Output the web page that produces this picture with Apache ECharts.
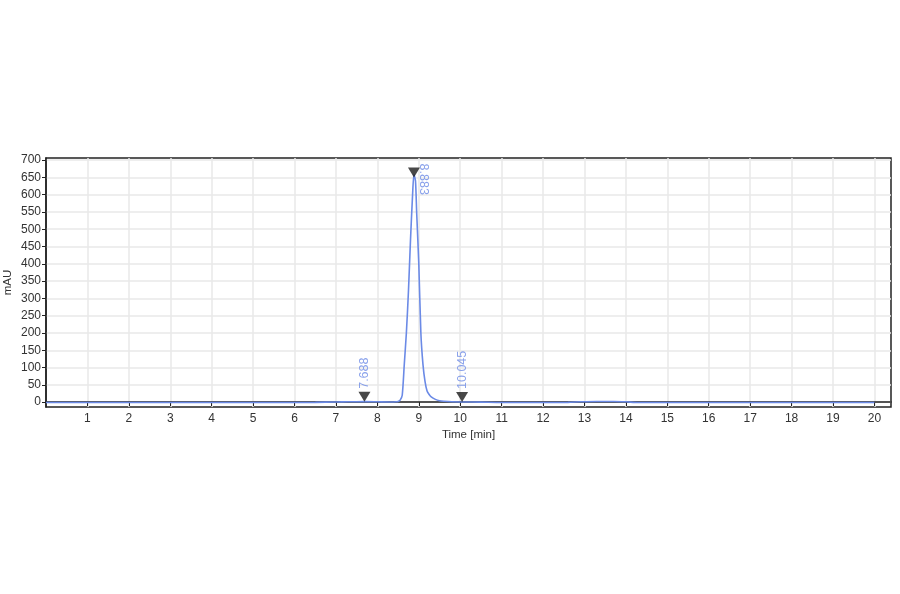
<!DOCTYPE html>
<html>
<head>
<meta charset="utf-8">
<script src="https://cdn.jsdelivr.net/npm/echarts@6/dist/echarts.min.js"></script>
<style>html,body{margin:0;padding:0;background:#fff}#c{width:900px;height:594px}</style>
</head>
<body>
<div id="c"></div>
<script>
// Chromatogram trace (time in min, absorbance in mAU)
var times = [0, 1, 2, 3, 4, 5, 6, 6.5, 7.0, 7.3, 7.688, 8.0, 8.3, 8.45, 8.5, 8.55, 8.6, 8.65, 8.7, 8.75, 8.8, 8.85, 8.883, 8.92, 8.95, 9.0, 9.05, 9.1, 9.15, 9.2, 9.25, 9.3, 9.4, 9.5, 9.6, 9.8, 10.045, 10.5, 11, 12, 12.6, 12.9, 13.3, 13.7, 14.0, 14.3, 15, 16, 17, 18, 19, 20];
var signal = [-1, -1, -1, -1, -1, -1, -1, -0.5, 0.5, 1, 1.5, 1, 0.5, 1, 2, 6, 20, 110, 200, 320, 470, 600, 658, 640, 545, 400, 200, 110, 60, 32, 22, 15, 8, 4, 2.5, 1, 0.5, 0, -1, -1, -0.5, 1, 2, 2, 1, -1, -1, -1, -1, -1, -1, -1];
// Integration marks
var peakTimes = [7.688, 8.883, 10.045];
var peakHeights = [1, 658, 0.5];
var yTicks = [0, 50, 100, 150, 200, 250, 300, 350, 400, 450, 500, 550, 600, 650, 700];
var xTicks = [1, 2, 3, 4, 5, 6, 7, 8, 9, 10, 11, 12, 13, 14, 15, 16, 17, 18, 19, 20];

var trace = times.map(function (t, i) { return [t, signal[i]]; });
var labelStyles = [
  { show: true, position: 'top', rotate: 90, align: 'left', verticalAlign: 'middle', distance: 3 },
  { show: true, position: [16, -4], rotate: -90, align: 'left', verticalAlign: 'middle' },
  { show: true, position: 'top', rotate: 90, align: 'left', verticalAlign: 'middle', distance: 3 }
];
var offsets = [[0, -5], [0, -2], [0, -5]];
var marks = peakTimes.map(function (t, i) {
  return { value: [t, peakHeights[i]], symbolOffset: offsets[i], label: labelStyles[i] };
});

var FONT = 'Liberation Sans, Arial, sans-serif';
var chart = echarts.init(document.getElementById('c'));
chart.setOption({
  animation: false,
  backgroundColor: '#fff',
  grid: { left: 46, right: 9, top: 158, bottom: 187, outerBoundsMode: 'none', containLabel: false,
          show: true, borderColor: '#222', borderWidth: 1.5, backgroundColor: 'transparent' },
  xAxis: {
    type: 'value', min: 0, max: 20.4,
    name: 'Time [min]', nameLocation: 'middle', nameGap: 22, nameMoveOverlap: false,
    nameTextStyle: { fontFamily: FONT, fontSize: 11.5, color: '#333' },
    axisLine: { show: true, lineStyle: { color: '#222', width: 1.5 } },
    axisTick: { show: true, customValues: xTicks, length: 4, lineStyle: { color: '#222' } },
    axisLabel: { customValues: xTicks, fontFamily: FONT, fontSize: 12, color: '#333', margin: 6 },
    splitLine: { show: true, lineStyle: { color: '#e8e8e8', width: 1.5 } }
  },
  yAxis: {
    type: 'value', min: -14, max: 706,
    name: 'mAU', nameLocation: 'middle', nameGap: 32, nameMoveOverlap: false,
    nameTextStyle: { fontFamily: FONT, fontSize: 11.5, color: '#333' },
    axisLine: { show: true, lineStyle: { color: '#222', width: 1.5 } },
    axisTick: { show: true, customValues: yTicks, length: 4, lineStyle: { color: '#222' } },
    axisLabel: { customValues: yTicks, fontFamily: FONT, fontSize: 12, color: '#333', margin: 5 },
    splitLine: { show: true, lineStyle: { color: '#e8e8e8', width: 1.5 } }
  },
  series: [
    {
      type: 'line', data: trace, smooth: 0.25, showSymbol: false,
      lineStyle: { color: '#6b8ae6', width: 1.6 }
    },
    {
      type: 'scatter', data: marks, symbol: 'triangle', symbolRotate: 180, symbolSize: [12, 10],
      itemStyle: { color: '#1a1a1a' }, z: 5,
      label: {
        formatter: function (p) { return p.value[0].toFixed(3); },
        fontFamily: FONT, fontSize: 12.5, color: '#6b8ae6'
      }
    }
  ]
});
</script>
</body>
</html>
